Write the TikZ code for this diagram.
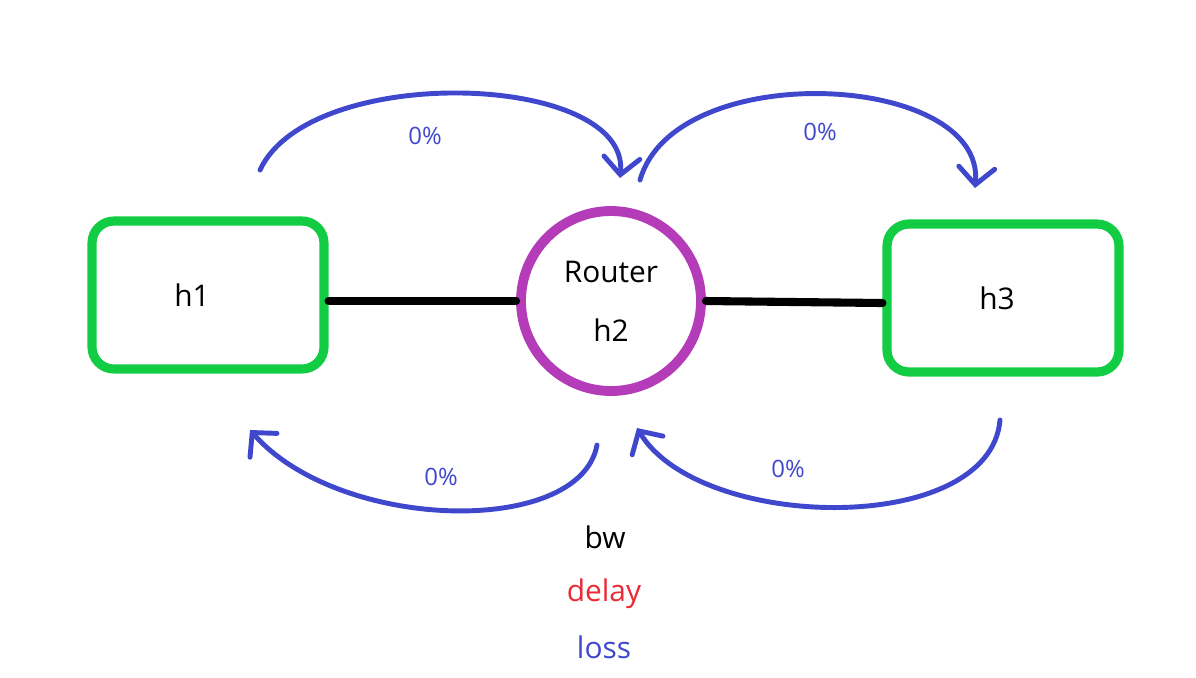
\documentclass[tikz,border=0pt]{standalone}
\usepackage{fontspec}
\setmainfont{Open Sans}
\usetikzlibrary{arrows.meta}

\definecolor{hostgreen}{HTML}{12CC44}
\definecolor{routerpurple}{HTML}{B43CB8}
\definecolor{lossblue}{HTML}{3F48CC}
\definecolor{delayred}{HTML}{EC2A36}

\tikzset{
    host/.style={draw=hostgreen, line width=2.6pt, rounded corners=0.22cm,
        minimum width=2.32cm, minimum height=1.48cm, font=\fontsize{8.5}{10}\selectfont},
    router/.style={circle, draw=routerpurple, line width=2.8pt, minimum size=1.80cm,
        align=center, font=\fontsize{8.5}{10}\selectfont},
    link/.style={line width=2.3pt, line cap=round},
    lossarrow/.style={draw=lossblue, line width=1.4pt, line cap=round, line join=round,
        -{Straight Barb[length=1.7mm,width=3.6mm,line cap=round]}},
    losslabel/.style={text=lossblue, font=\fontsize{6.8}{8}\selectfont},
    legend/.style={font=\fontsize{8.5}{10}\selectfont}
}

\begin{document}
\begin{tikzpicture}
    \useasboundingbox (0,0) rectangle (11.96,6.77);

    % hosts and router
    \node[host] (h1) at (2.08,3.82) {h1\kern0.32cm};
    \node[host] (h3) at (10.03,3.79) {h3\kern0.12cm};
    \node[router] (r) at (6.11,3.76) {Router\\[0.24cm]h2};

    \draw[link] (h1.east |- r.west) -- (r.west);
    \draw[link] (r.east) -- ([yshift=-0.05cm]h3.west);

    % loss arrows
    \coordinate (tl1) at (2.60,5.07);
    \coordinate (tl2) at (6.20,4.99);
    \coordinate (tr1) at (6.40,4.97);
    \coordinate (tr2) at (9.75,4.89);
    \coordinate (bl1) at (5.97,2.32);
    \coordinate (bl2) at (2.50,2.47);
    \coordinate (br1) at (10.00,2.57);
    \coordinate (br2) at (6.37,2.49);

    \draw[lossarrow] (tl1) .. controls (3.10,6.15) and (6.30,6.05) .. (tl2);
    \draw[lossarrow] (tr1) .. controls (6.75,6.20) and (9.85,6.05) .. (tr2);
    \draw[lossarrow] (bl1) .. controls (5.80,1.40) and (3.40,1.45) .. (bl2);
    \draw[lossarrow] (br1) .. controls (9.90,1.40) and (7.00,1.45) .. (br2);

    \node[losslabel] (ltl) at (4.25,5.41) {0\%};
    \node[losslabel] (ltr) at (8.20,5.45) {0\%};
    \node[losslabel] (lbl) at (4.41,2.00) {0\%};
    \node[losslabel] (lbr) at (7.88,2.08) {0\%};

    % legend
    \node[legend] (bw) at (6.05,1.40) {bw};
    \node[legend, text=delayred] (delay) at (6.04,0.83) {delay};
    \node[legend, text=lossblue] (loss) at (6.04,0.30) {loss};
\end{tikzpicture}
\end{document}
